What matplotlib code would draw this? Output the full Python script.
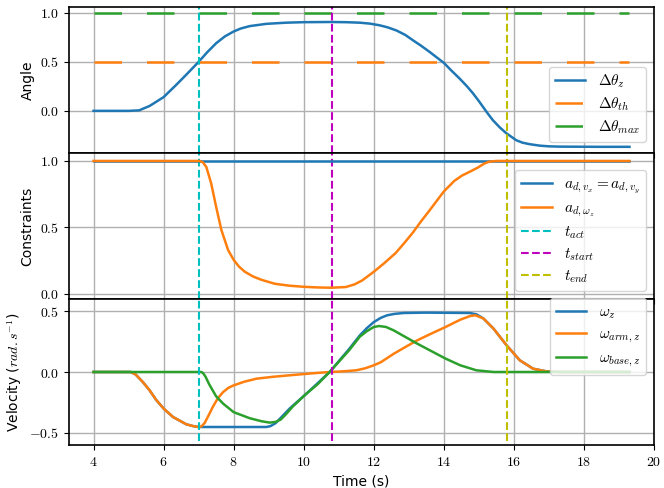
import numpy as np
import matplotlib
matplotlib.use('Agg')
import matplotlib.pyplot as plt
from matplotlib.ticker import FuncFormatter

plt.rcParams['mathtext.fontset'] = 'cm'
plt.rcParams['axes.linewidth'] = 1.2
plt.rcParams['grid.color'] = '#b0b0b0'
plt.rcParams['grid.linewidth'] = 1.0

# event times
t_act = 7.0
t_start = 10.8
t_end = 15.8

# Angle panel
t_angle = [4.0, 5.0, 5.3, 5.6, 6.0, 6.36, 6.65, 7.0, 7.25, 7.5, 7.75, 8.0, 8.2, 8.46, 8.93,
           9.5, 10.0, 10.75, 11.2, 11.6, 11.9, 12.17, 12.4, 12.65, 12.9, 13.12, 13.35, 13.6,
           13.8, 14.0, 14.22, 14.45, 14.65, 14.83, 15.0, 15.12, 15.25, 15.4, 15.6, 15.79,
           16.07, 16.25, 16.45, 16.74, 17.0, 17.3, 18.5, 19.3]
d_theta_z = [0.0, 0.0, 0.005, 0.05, 0.14, 0.265, 0.37, 0.5, 0.6, 0.69, 0.76, 0.81, 0.84, 0.865, 0.888,
             0.90, 0.905, 0.907, 0.905, 0.9, 0.89, 0.873, 0.852, 0.82, 0.775, 0.72, 0.665, 0.60,
             0.545, 0.49, 0.41, 0.33, 0.255, 0.18, 0.10, 0.04, -0.025, -0.095, -0.17, -0.23,
             -0.30, -0.325, -0.34, -0.355, -0.362, -0.365, -0.367, -0.367]
t_span = [4.0, 19.3]
d_theta_th = [0.5, 0.5]
d_theta_max = [1.0, 1.0]

# Constraints panel
a_v = [1.0, 1.0]
t_aw = [4.0, 7.03, 7.12, 7.22, 7.36, 7.5, 7.65, 7.84, 8.0, 8.15, 8.31, 8.55, 8.79, 9.17, 9.6,
        10.0, 10.4, 10.79, 11.2, 11.45, 11.67, 12.0, 12.3, 12.62, 12.85, 13.1, 13.35, 13.6,
        13.8, 14.0, 14.3, 14.52, 14.75, 14.97, 15.15, 15.3, 15.5, 19.3]
a_w = [1.0, 1.0, 0.99, 0.955, 0.83, 0.655, 0.48, 0.33, 0.255, 0.205, 0.167, 0.13, 0.105, 0.075,
       0.06, 0.052, 0.047, 0.045, 0.05, 0.07, 0.1, 0.165, 0.23, 0.305, 0.375, 0.455, 0.545, 0.63,
       0.70, 0.77, 0.85, 0.89, 0.92, 0.95, 0.98, 0.995, 1.0, 1.0]

# Velocity panel
t_arm = [4.0, 5.06, 5.2, 5.4, 5.6, 5.79, 6.0, 6.27, 6.65, 6.85, 7.0, 7.08, 7.17, 7.28, 7.4,
         7.55, 7.7, 7.85, 8.0, 8.3, 8.65, 9.1, 9.6, 10.2, 10.74, 11.1, 11.5, 11.75, 12.0, 12.2,
         12.57, 12.9, 13.24, 13.6, 14.05, 14.47, 14.75, 14.9, 15.13, 15.42, 15.79, 16.17, 16.55,
         16.93, 17.3, 19.3]
w_arm = [0.0, 0.0, -0.02, -0.08, -0.15, -0.23, -0.30, -0.37, -0.43, -0.445, -0.452, -0.447,
         -0.42, -0.36, -0.29, -0.215, -0.165, -0.13, -0.11, -0.08, -0.055, -0.04, -0.027, -0.012,
         0.0, 0.005, 0.014, 0.03, 0.055, 0.08, 0.15, 0.205, 0.26, 0.31, 0.37, 0.43, 0.46, 0.466,
         0.44, 0.356, 0.22, 0.096, 0.027, 0.005, 0.0, 0.0]
t_base = [4.0, 7.08, 7.13, 7.2, 7.3, 7.5, 7.7, 8.0, 8.46, 8.8, 9.03, 9.2, 9.35, 9.5, 9.7, 10.07,
          10.4, 10.74, 11.3, 11.6, 11.8, 12.0, 12.15, 12.35, 12.57, 13.24, 14.05, 14.47, 14.93,
          15.42, 19.3]
w_base = [0.0, 0.0, -0.01, -0.04, -0.1, -0.2, -0.26, -0.33, -0.38, -0.405, -0.416, -0.41,
          -0.39, -0.345, -0.28, -0.18, -0.1, 0.0, 0.18, 0.29, 0.335, 0.37, 0.378, 0.37, 0.342,
          0.233, 0.11, 0.055, 0.014, 0.0, 0.0]
t_wz = [4.0, 5.06, 5.2, 5.4, 5.6, 5.79, 6.0, 6.27, 6.65, 6.85, 7.0, 8.93, 9.05, 9.2, 9.4, 9.6,
        10.07, 10.74, 11.3, 11.6, 11.8, 12.0, 12.2, 12.38, 12.6, 12.86, 13.5, 14.74, 14.93,
        15.13, 15.42, 15.79, 16.17, 16.55, 16.93, 17.3, 19.3]
w_z = [0.0, 0.0, -0.02, -0.08, -0.15, -0.23, -0.30, -0.37, -0.43, -0.445, -0.452, -0.452,
       -0.445, -0.42, -0.36, -0.30, -0.18, 0.0, 0.19, 0.30, 0.36, 0.41, 0.445, 0.466, 0.478,
       0.485, 0.488, 0.485, 0.474, 0.44, 0.356, 0.22, 0.096, 0.027, 0.005, 0.0, 0.0]

fig = plt.figure(figsize=(6.64, 4.88), dpi=100)
gs = fig.add_gridspec(3, 1, hspace=0, left=69/664, right=654/664,
                      top=1 - 7/488, bottom=1 - 445/488)
ax1 = fig.add_subplot(gs[0])
ax2 = fig.add_subplot(gs[1], sharex=ax1)
ax3 = fig.add_subplot(gs[2], sharex=ax1)

fmt = FuncFormatter(lambda v, p: r'$%.1f$' % v)
fmt_x = FuncFormatter(lambda v, p: r'$%d$' % round(v))
leg_kw = dict(fontsize=11, labelspacing=0.35)

# Angle
ax1.plot(t_angle, d_theta_z, color='tab:blue', lw=1.8, label=r'$\Delta\theta_z$')
ax1.plot(t_span, d_theta_th, color='tab:orange', lw=1.8, dashes=(11, 10), label=r'$\Delta\theta_{th}$')
ax1.plot(t_span, d_theta_max, color='tab:green', lw=1.8, dashes=(11, 10), label=r'$\Delta\theta_{max}$')
for ax in (ax1, ax2):
    ax.axvline(t_act, color='c', ls='--', lw=1.5)
    ax.axvline(t_start, color='m', ls='--', lw=1.5)
    ax.axvline(t_end, color='y', ls='--', lw=1.5)
ax1.set_ylim(-0.43, 1.06)
ax1.set_yticks([0.0, 0.5, 1.0])
ax1.set_ylabel('Angle')
ax1.legend(loc='lower right', bbox_to_anchor=(1.0, 0.02), **leg_kw)

# Constraints
ax2.plot(t_span, a_v, color='tab:blue', lw=1.8, label=r'$a_{d,v_x} = a_{d,v_y}$')
ax2.plot(t_aw, a_w, color='tab:orange', lw=1.8, label=r'$a_{d,\omega_z}$')
ax2.plot([], [], color='c', ls='--', lw=1.5, label=r'$t_{act}$')
ax2.plot([], [], color='m', ls='--', lw=1.5, label=r'$t_{start}$')
ax2.plot([], [], color='y', ls='--', lw=1.5, label=r'$t_{end}$')
ax2.set_ylim(-0.04, 1.06)
ax2.set_yticks([0.0, 0.5, 1.0])
ax2.set_ylabel('Constraints')
ax2.legend(loc='lower right', bbox_to_anchor=(1.0, 0.0), **leg_kw)

# Velocity
ax3.plot(t_wz, w_z, color='tab:blue', lw=1.8, label=r'$\omega_z$')
ax3.plot(t_arm, w_arm, color='tab:orange', lw=1.8, label=r'$\omega_{arm,z}$')
ax3.plot(t_base, w_base, color='tab:green', lw=1.8, label=r'$\omega_{base,z}$')
ax3.axvline(t_act, ymin=0.03, color='c', ls='--', lw=1.5)
ax3.axvline(t_start, ymin=0.03, color='m', ls='--', lw=1.5)
ax3.axvline(t_end, ymin=0.03, color='y', ls='--', lw=1.5)
ax3.set_ylim(-0.6, 0.6)
ax3.set_yticks([-0.5, 0.0, 0.5])
ax3.set_ylabel(r'Velocity ($rad.s^{-1}$)')
ax3.set_xlabel('Time (s)')
ax3.legend(loc='upper right', bbox_to_anchor=(1.0, 1.06), **leg_kw)

ax3.set_xlim(3.3, 20)
ax3.set_xticks(range(4, 21, 2))
ax3.xaxis.set_major_formatter(fmt_x)
for ax in (ax1, ax2, ax3):
    ax.grid(True)
    ax.yaxis.set_major_formatter(fmt)
    ax.tick_params(labelsize=10)
for ax in (ax1, ax2):
    ax.tick_params(labelbottom=False)

plt.savefig('out.png', dpi=100)
